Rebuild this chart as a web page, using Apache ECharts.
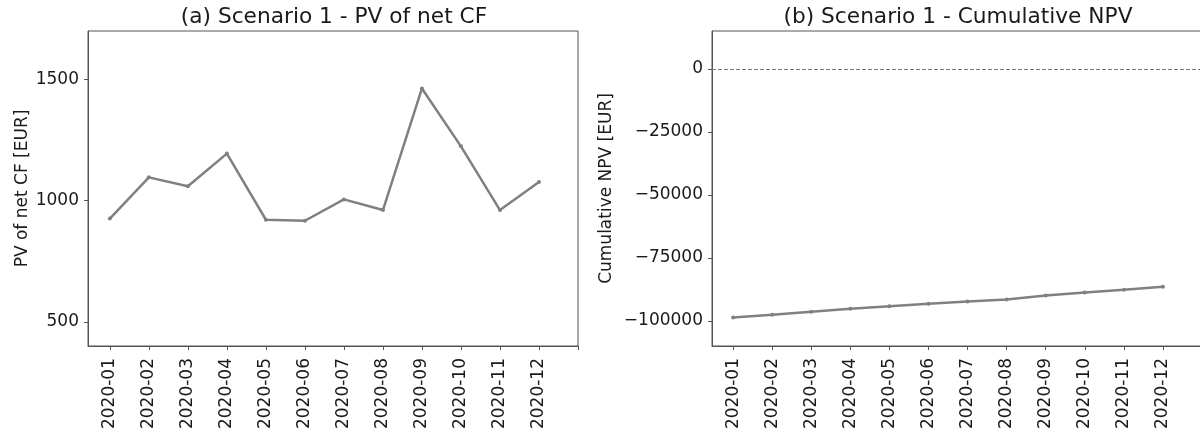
<!DOCTYPE html>
<html>
<head>
<meta charset="utf-8">
<script src="https://cdn.jsdelivr.net/npm/echarts@6/dist/echarts.min.js"></script>
<style>
  html, body { margin: 0; padding: 0; background: #fff; }
  #chart { width: 1200px; height: 437px; }
</style>
</head>
<body>
<div id="chart"></div>
<script>
// Monthly categories shared by both panels
const months = ['2020-01', '2020-02', '2020-03', '2020-04', '2020-05', '2020-06',
                '2020-07', '2020-08', '2020-09', '2020-10', '2020-11', '2020-12'];

// (a) Present value of the net cash flow per month [EUR]
const pvNetCF = [926, 1096, 1059, 1194, 921, 917, 1005, 961, 1463, 1224, 961, 1077];

// (b) Cumulative net present value [EUR]
const cumulativeNPV = [-98700, -97620, -96430, -95240, -94200, -93250,
                       -92340, -91550, -89960, -88770, -87700, -86510];

// Tick values on the y axes
const pvTicks = [500, 1000, 1500];
const npvTicks = [-100000, -75000, -50000, -25000, 0];

const FONT = 'DejaVu Sans';
const INK = '#1a1a1a';
const SPINE = '#555555';
const LINE = '#808080';

const monthIdx = months.map((_, i) => i);
const xTickIdx = monthIdx.concat([months.length]);

function xAxisFor(gridIndex, minIdx) {
  return {
    type: 'value',
    gridIndex: gridIndex,
    min: minIdx,
    max: months.length,
    axisLine: { show: true, onZero: false, lineStyle: { color: SPINE, width: 1 } },
    splitLine: { show: false },
    axisTick: { show: true, length: 4, customValues: xTickIdx, lineStyle: { color: SPINE } },
    axisLabel: {
      customValues: monthIdx,
      rotate: 90,
      margin: 12,
      color: INK,
      fontFamily: FONT,
      fontSize: 17,
      formatter: v => months[Math.round(v)] || ''
    }
  };
}

// Negative numbers use a true minus sign, no thousands separators
function numFmt(v) {
  return v < 0 ? '\u2212' + Math.abs(v) : String(v);
}

const chart = echarts.init(document.getElementById('chart'), null, { renderer: 'canvas' });

chart.setOption({
  animation: false,
  backgroundColor: '#ffffff',
  title: [
    {
      text: '(a) Scenario 1 - PV of net CF',
      left: 329, top: 1, textAlign: 'center',
      textStyle: { fontFamily: FONT, fontSize: 21.7, fontWeight: 'normal', color: INK }
    },
    {
      text: '(b) Scenario 1 - Cumulative NPV',
      left: 953, top: 1, textAlign: 'center',
      textStyle: { fontFamily: FONT, fontSize: 21.7, fontWeight: 'normal', color: INK }
    }
  ],
  grid: [
    { left: 88, top: 31, width: 490, height: 315, outerBoundsMode: 'none', show: true, borderColor: SPINE, borderWidth: 1, backgroundColor: 'transparent' },
    { left: 712, top: 31, width: 490, height: 315, outerBoundsMode: 'none', show: true, borderColor: SPINE, borderWidth: 1, backgroundColor: 'transparent' }
  ],
  xAxis: [xAxisFor(0, -0.56), xAxisFor(1, -0.54)],
  yAxis: [
    {
      type: 'value', gridIndex: 0, min: 400, max: 1700,
      name: 'PV of net CF [EUR]', nameLocation: 'middle', nameGap: 57,
      nameTextStyle: { fontFamily: FONT, fontSize: 17, color: INK },
      axisLine: { show: true, onZero: false, lineStyle: { color: SPINE } },
      splitLine: { show: false },
      axisTick: { show: true, length: 4, customValues: pvTicks, lineStyle: { color: SPINE } },
      axisLabel: { customValues: pvTicks, margin: 9, color: INK, fontFamily: FONT, fontSize: 17, formatter: numFmt }
    },
    {
      type: 'value', gridIndex: 1, min: -110000, max: 15000,
      name: 'Cumulative NPV [EUR]', nameLocation: 'middle', nameGap: 97,
      nameTextStyle: { fontFamily: FONT, fontSize: 17, color: INK },
      axisLine: { show: true, onZero: false, lineStyle: { color: SPINE } },
      splitLine: { show: false },
      axisTick: { show: true, length: 4, customValues: npvTicks, lineStyle: { color: SPINE } },
      axisLabel: { customValues: npvTicks, margin: 9, color: INK, fontFamily: FONT, fontSize: 17, formatter: numFmt }
    }
  ],
  series: [
    {
      type: 'line', xAxisIndex: 0, yAxisIndex: 0,
      data: pvNetCF.map((v, i) => [i, v]),
      symbol: 'circle', symbolSize: 4, showSymbol: true,
      lineStyle: { color: LINE, width: 2.5 },
      itemStyle: { color: LINE },
      silent: true
    },
    {
      type: 'line', xAxisIndex: 1, yAxisIndex: 1,
      data: cumulativeNPV.map((v, i) => [i, v]),
      symbol: 'circle', symbolSize: 4, showSymbol: true,
      lineStyle: { color: LINE, width: 2.5 },
      itemStyle: { color: LINE },
      silent: true,
      markLine: {
        silent: true,
        symbol: 'none',
        label: { show: false },
        lineStyle: { color: '#777777', width: 1, type: [4, 2] },
        data: [{ yAxis: 0 }]
      }
    }
  ]
});
</script>
</body>
</html>
